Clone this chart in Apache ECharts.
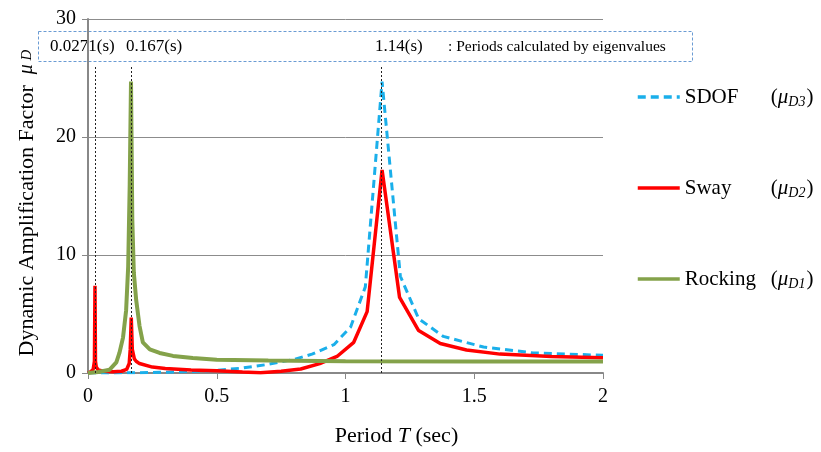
<!DOCTYPE html>
<html>
<head>
<meta charset="utf-8">
<script src="https://cdn.jsdelivr.net/npm/echarts@6/dist/echarts.min.js"></script>
<style>
  html, body { margin: 0; padding: 0; background: #fff; }
  #chart { width: 821px; height: 452px; }
</style>
</head>
<body>
<div id="chart"></div>
<script>
// periods from the eigenvalue analysis (s)
var eigenPeriods = [0.0271, 0.167, 1.14];

// SDOF  (mu_D3)
var sdofT = [0, 0.1, 0.2, 0.3, 0.4, 0.5, 0.6, 0.69, 0.8, 0.87, 0.955, 1.02, 1.077, 1.142, 1.213, 1.284, 1.38, 1.536, 1.73, 2.0];
var sdofV = [0, 0.01, 0.03, 0.07, 0.13, 0.22, 0.42, 0.7, 1.15, 1.6, 2.4, 3.9, 7.3, 24.7, 8.2, 4.6, 3.1, 2.2, 1.7, 1.5];

// Sway  (mu_D2)
var swayT = [0, 0.01, 0.02, 0.025, 0.0271, 0.029, 0.032, 0.04, 0.06, 0.1, 0.13, 0.15, 0.16, 0.164, 0.168, 0.172, 0.18, 0.187, 0.2, 0.25, 0.3, 0.4, 0.5, 0.6, 0.67, 0.75, 0.826, 0.9, 0.967, 1.032, 1.084, 1.142, 1.21, 1.284, 1.368, 1.47, 1.6, 1.8, 2.0];
var swayV = [0, 0.1, 0.3, 1.0, 7.4, 1.0, 0.5, 0.25, 0.15, 0.1, 0.15, 0.3, 0.8, 2.0, 4.7, 2.0, 1.2, 1.0, 0.8, 0.5, 0.38, 0.25, 0.2, 0.08, 0.03, 0.15, 0.34, 0.8, 1.4, 2.6, 5.2, 17.2, 6.4, 3.6, 2.5, 1.95, 1.6, 1.4, 1.3];

// Rocking  (mu_D1)
var rockT = [0, 0.04, 0.084, 0.11, 0.122, 0.136, 0.148, 0.156, 0.162, 0.167, 0.172, 0.178, 0.187, 0.2, 0.213, 0.24, 0.278, 0.33, 0.407, 0.5, 0.7, 1.0, 1.5, 2.0];
var rockV = [0, 0.08, 0.28, 0.9, 1.7, 3.0, 5.3, 9.0, 16, 24.7, 13, 8.5, 6.2, 4.0, 2.6, 2.0, 1.7, 1.45, 1.27, 1.12, 1.05, 1.0, 0.98, 0.97];

var xTicks = [0, 0.5, 1, 1.5, 2];
var yTicks = [0, 10, 20, 30];

function pairs(t, v) {
  return t.map(function (x, i) { return [x, v[i]]; });
}

var serif = 'Liberation Serif';
var subs = { SDOF: 'D3', Sway: 'D2', Rocking: 'D1' };

var chart = echarts.init(document.getElementById('chart'));
chart.setOption({
  animation: false,
  textStyle: { fontFamily: serif, color: '#000' },
  grid: { left: 88, right: 218, top: 19, bottom: 79 },
  xAxis: {
    type: 'value',
    min: xTicks[0], max: xTicks[xTicks.length - 1], interval: 0.5,
    name: '{t|Period }{i|T}{t| (sec)}',
    nameLocation: 'middle', nameGap: 52,
    nameTextStyle: {
      padding: [0, 0, 0, 102],
      rich: {
        t: { fontFamily: serif, fontSize: 22, color: '#000' },
        i: { fontFamily: serif, fontSize: 22, fontStyle: 'italic', color: '#000' }
      }
    },
    axisLine: { lineStyle: { color: '#888', width: 2 } },
    axisTick: { show: true, length: 6, lineStyle: { color: '#888', width: 1 } },
    axisLabel: { fontFamily: serif, fontSize: 20, color: '#000', margin: 14 },
    splitLine: { show: false }
  },
  yAxis: {
    type: 'value',
    min: yTicks[0], max: yTicks[yTicks.length - 1], interval: 10,
    name: '{t|Dynamic Amplification Factor  }{mu|μ}{d| D}',
    nameLocation: 'middle', nameGap: 50,
    nameTextStyle: {
      padding: [0, 14, 0, 0],
      rich: {
        t: { fontFamily: serif, fontSize: 22, color: '#000' },
        mu: { fontFamily: serif, fontSize: 20, fontStyle: 'italic', color: '#000' },
        d: { fontFamily: serif, fontSize: 15, fontStyle: 'italic', color: '#000' }
      }
    },
    axisLine: { show: true, lineStyle: { color: '#888', width: 2 } },
    axisTick: { show: true, length: 6, lineStyle: { color: '#888', width: 1 } },
    axisLabel: { fontFamily: serif, fontSize: 20, color: '#000', margin: 12 },
    splitLine: { lineStyle: { color: '#8c8c8c', width: 1 } }
  },
  legend: {
    orient: 'vertical',
    left: 636, top: 85,
    padding: 0,
    itemWidth: 42, itemHeight: 14,
    itemGap: 67,
    data: ['SDOF', 'Sway', 'Rocking'],
    itemStyle: { opacity: 0 },
    lineStyle: { width: 3.5 },
    formatter: function (name) {
      return '{n|' + name + '}{p|(}{mu|μ}{s|' + subs[name] + '}{p|)}';
    },
    textStyle: {
      rich: {
        n: { fontFamily: serif, fontSize: 21, color: '#000', width: 86, lineHeight: 26 },
        p: { fontFamily: serif, fontSize: 21, color: '#000', lineHeight: 26 },
        mu: { fontFamily: serif, fontSize: 21, fontStyle: 'italic', color: '#000', lineHeight: 26 },
        s: { fontFamily: serif, fontSize: 14, fontStyle: 'italic', color: '#000', lineHeight: 26, padding: [10, 1, 0, 0] }
      }
    }
  },
  series: [
    {
      name: 'SDOF', type: 'line', symbol: 'none',
      data: pairs(sdofT, sdofV),
      lineStyle: { color: '#1AAFEA', width: 3, type: [8, 5] },
      itemStyle: { color: '#1AAFEA' }
    },
    {
      name: 'Sway', type: 'line', symbol: 'none',
      data: pairs(swayT, swayV),
      lineStyle: { color: '#FF0000', width: 3.5 },
      itemStyle: { color: '#FF0000' }
    },
    {
      name: 'Rocking', type: 'line', symbol: 'none',
      data: pairs(rockT, rockV),
      lineStyle: { color: '#84A24A', width: 4 },
      itemStyle: { color: '#84A24A' },
      markLine: {
        silent: true, symbol: 'none',
        label: { show: false },
        lineStyle: { color: '#222', width: 1, type: [2, 2] },
        data: eigenPeriods.map(function (p) {
          return [{ coord: [p, 0] }, { coord: [p, 26] }];
        })
      }
    }
  ],
  graphic: [
    {
      type: 'rect',
      shape: { x: 38.5, y: 31.5, width: 654, height: 30 },
      style: { fill: null, stroke: '#6A9BD3', lineWidth: 1, lineDash: [3, 2] }
    },
    { type: 'text', left: 50, top: 38, style: { text: eigenPeriods[0] + '(s)', font: '17px ' + serif, fill: '#000' } },
    { type: 'text', left: 126, top: 38, style: { text: eigenPeriods[1] + '(s)', font: '17px ' + serif, fill: '#000' } },
    { type: 'text', left: 375, top: 38, style: { text: eigenPeriods[2] + '(s)', font: '17px ' + serif, fill: '#000' } },
    { type: 'text', left: 448, top: 39, style: { text: ': Periods calculated by eigenvalues', font: '15.5px ' + serif, fill: '#000' } }
  ]
});
</script>
</body>
</html>
